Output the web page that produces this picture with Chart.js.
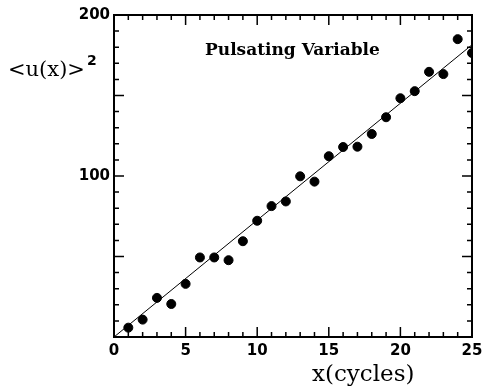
<!DOCTYPE html>
<html>
<head>
<meta charset="utf-8">
<script src="https://cdn.jsdelivr.net/npm/chart.js@4.4.1/dist/chart.umd.min.js"></script>
<style>
  html, body { margin: 0; padding: 0; background: #fff; }
  #wrap { width: 483px; height: 388px; }
</style>
</head>
<body>
<div id="wrap"><canvas id="pulseChart" width="483" height="388"></canvas></div>
<script>
// Data
const cycles = [1, 2, 3, 4, 5, 6, 7, 8, 9, 10, 11, 12, 13, 14, 15, 16, 17, 18, 19, 20, 21, 22, 23, 24, 25];
const meanSquare = [5.8, 10.8, 24.3, 20.5, 33, 49.4, 49.4, 47.7, 59.5, 72.2, 81.3, 84.2, 99.8, 96.5, 112.3,
                    118, 118.2, 126.1, 136.5, 148.3, 152.7, 164.7, 163.3, 185, 176.4];
const fitX = [0, 25];
const fitY = [0, 181.5];
const xTickLabels = [0, 5, 10, 15, 20, 25];
const yTickLabels = [100, 200];

const tickFont = { family: 'DejaVu Sans', size: 15, weight: 'bold' };

// Ticks pointing inward on all four sides + frame + the free texts
const framePlugin = {
    id: 'frame',
    afterDraw(chart) {
        const ctx = chart.ctx;
        const a = chart.chartArea;
        const xs = chart.scales.x;
        const ys = chart.scales.y;
        ctx.save();
        ctx.strokeStyle = '#000';
        ctx.lineWidth = 1.5;
        ctx.beginPath();
        for (let v = 0; v <= 25; v++) {
            const px = xs.getPixelForValue(v);
            const len = v % 5 === 0 ? 10 : 5;
            ctx.moveTo(px, a.bottom); ctx.lineTo(px, a.bottom - len);
            ctx.moveTo(px, a.top); ctx.lineTo(px, a.top + len);
        }
        for (let v = 0; v <= 200; v += 10) {
            const py = ys.getPixelForValue(v);
            const len = v % 50 === 0 ? 10 : 5;
            ctx.moveTo(a.left, py); ctx.lineTo(a.left + len, py);
            ctx.moveTo(a.right, py); ctx.lineTo(a.right - len, py);
        }
        ctx.stroke();
        ctx.lineWidth = 2;
        ctx.strokeRect(a.left, a.top, a.right - a.left, a.bottom - a.top);

        ctx.fillStyle = '#000';
        ctx.textBaseline = 'alphabetic';
        ctx.textAlign = 'left';
        ctx.font = 'bold 17px "DejaVu Serif"';
        ctx.fillText('Pulsating Variable', 205, 55);
        ctx.font = '21px "DejaVu Serif"';
        ctx.fillText('<u(x)>', 8, 76);
        ctx.font = 'bold 14px "DejaVu Sans"';
        ctx.fillText('2', 87, 65);
        ctx.font = '23px "DejaVu Serif"';
        ctx.fillText('x(cycles)', 312, 381);
        ctx.restore();
    }
};

const ctx = document.getElementById('pulseChart').getContext('2d');
new Chart(ctx, {
    type: 'scatter',
    data: {
        datasets: [{
            label: 'points',
            data: cycles.map((c, i) => ({ x: c, y: meanSquare[i] })),
            backgroundColor: '#000',
            borderColor: '#000',
            pointRadius: 4.5,
            pointHoverRadius: 4.5
        }, {
            type: 'line',
            label: 'fit',
            data: fitX.map((c, i) => ({ x: c, y: fitY[i] })),
            borderColor: '#000',
            borderWidth: 1,
            pointRadius: 0,
            fill: false
        }]
    },
    options: {
        responsive: false,
        animation: false,
        events: [],
        layout: { padding: { left: 0, right: 11, top: 15, bottom: 0 } },
        plugins: { legend: { display: false }, tooltip: { enabled: false } },
        scales: {
            x: {
                type: 'linear', min: 0, max: 25,
                grid: { display: false, drawTicks: false },
                border: { display: false },
                afterBuildTicks: (s) => { s.ticks = xTickLabels.map(v => ({ value: v })); },
                afterFit: (s) => { s.height = 51; s.paddingLeft = 0; s.paddingRight = 0; },
                ticks: { color: '#000', font: tickFont, padding: 5, maxRotation: 0, autoSkip: false }
            },
            y: {
                type: 'linear', min: 0, max: 200,
                grid: { display: false, drawTicks: false },
                border: { display: false },
                afterBuildTicks: (s) => { s.ticks = yTickLabels.map(v => ({ value: v })); },
                afterFit: (s) => { s.width = 114; s.paddingTop = 0; s.paddingBottom = 0; },
                ticks: { color: '#000', font: tickFont, padding: 4 }
            }
        }
    },
    plugins: [framePlugin]
});
</script>
</body>
</html>
